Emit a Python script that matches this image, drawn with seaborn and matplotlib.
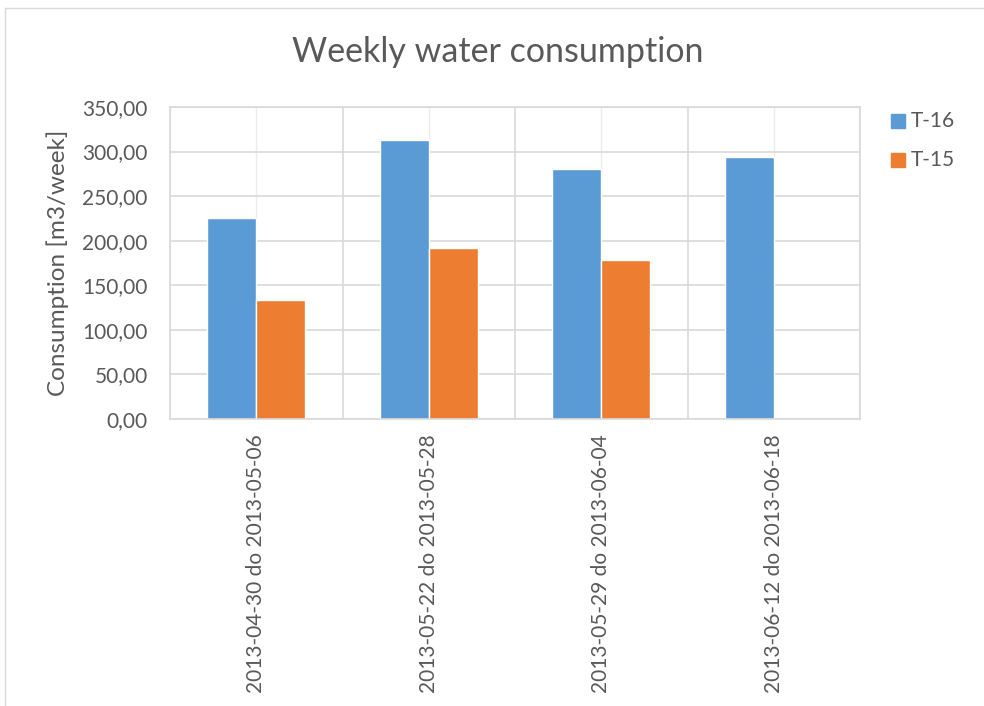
import numpy as np
import pandas as pd
import seaborn as sns
import matplotlib.pyplot as plt
from matplotlib.patches import Rectangle
from matplotlib.ticker import FuncFormatter

# dane
weeks = ["2013-04-30 do 2013-05-06", "2013-05-22 do 2013-05-28",
         "2013-05-29 do 2013-06-04", "2013-06-12 do 2013-06-18"]
t16 = [225.0, 312.7, 281.0, 293.7]
t15 = [133.2, 191.4, 178.0, np.nan]
series = ["T-16", "T-15"]
colors = ["#5B9BD5", "#ED7D31"]

df = pd.DataFrame({
    "week": weeks * 2,
    "value": t16 + t15,
    "series": [series[0]] * 4 + [series[1]] * 4,
})

sns.set_style("white")
plt.rcParams["font.family"] = ["Lato", "DejaVu Sans"]
txt = "#595959"

fig = plt.figure(figsize=(9.84, 7.06), dpi=100)
ax = fig.add_axes([170 / 984, 1 - 419 / 706, 690 / 984, 312 / 706])

sns.barplot(data=df, x="week", y="value", hue="series", palette=colors,
            width=0.57, saturation=1, ax=ax, legend=False)

ax.set_ylim(0, 350)
ax.set_xlim(-0.5, 3.5)
ax.set_yticks(np.arange(0, 351, 50))
ax.yaxis.set_major_formatter(FuncFormatter(lambda v, p: f"{v:.2f}".replace(".", ",")))
ax.set_xticks(range(4))
ax.set_xticklabels(weeks, rotation=90)
ax.set_xticks([-0.5, 0.5, 1.5, 2.5, 3.5], minor=True)
ax.tick_params(axis="both", which="both", length=0, labelsize=15, colors=txt)
ax.tick_params(axis="y", pad=16)
ax.tick_params(axis="x", pad=11)
ax.grid(True, which="major", axis="y", color="#d9d9d9", lw=1.2)
ax.grid(True, which="minor", axis="x", color="#d9d9d9", lw=1.2)
ax.grid(True, which="major", axis="x", color="#ececec", lw=1.0)
ax.set_axisbelow(True)
for s in ax.spines.values():
    s.set_color("#d9d9d9")
    s.set_linewidth(1.2)

ax.set_xlabel("")
ax.set_ylabel("Consumption [m3/week]", fontsize=17.5, color=txt)
ax.yaxis.set_label_coords(-0.146, 0.5)
fig.text(498 / 984, 1 - 52 / 706, "Weekly water consumption", ha="center", va="center",
         fontsize=24.5, color=txt)

# legenda
for i, (name, c) in enumerate(zip(series, colors)):
    y = 1 - (121 + 39 * i) / 706
    fig.patches.append(Rectangle((891 / 984, y - 7 / 706), 14 / 984, 14 / 706,
                                 transform=fig.transFigure, color=c))
    fig.text(911 / 984, y, name, va="center", ha="left", fontsize=15, color=txt)

# ramka wykresu
fig.patches.append(Rectangle((5 / 984, -0.1), 1.2, 1 - 8 / 706 + 0.1, transform=fig.transFigure,
                             fill=False, edgecolor="#d9d9d9", lw=1))

fig.savefig("out.png", dpi=100)
